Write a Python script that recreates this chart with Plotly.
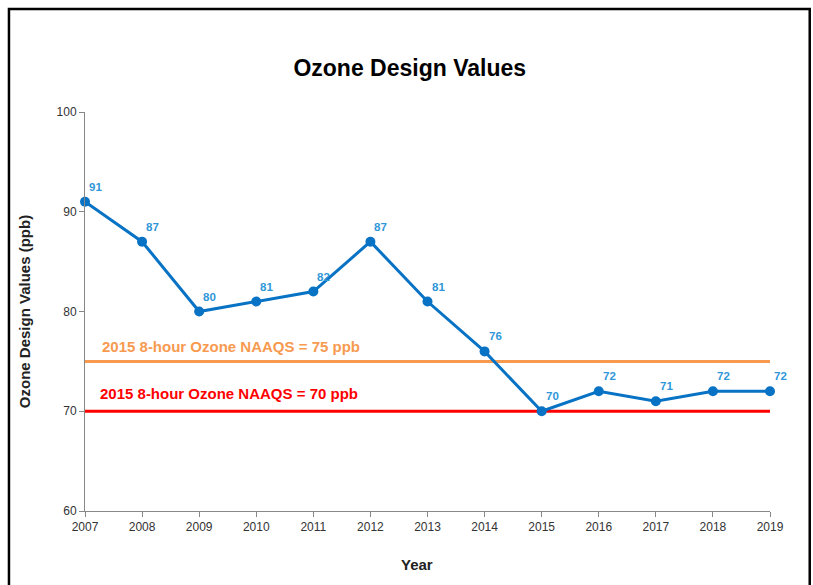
import plotly.graph_objects as pgo

# ozone design values (ppb) by year
years = [2007, 2008, 2009, 2010, 2011, 2012, 2013, 2014, 2015, 2016, 2017, 2018, 2019]
design_values = [91, 87, 80, 81, 82, 87, 81, 76, 70, 72, 71, 72, 72]

std_2008 = 75
std_2015 = 70
std_2008_label = "2015 8-hour Ozone NAAQS = 75 ppb"
std_2015_label = "2015 8-hour Ozone NAAQS = 70 ppb"

line_blue = "#0872C4"
label_blue = "#2F97D8"
orange = "#F79A50"
red = "#FF0000"

fig = pgo.Figure()

# standard lines
fig.add_trace(pgo.Scatter(x=[years[0], years[-1]], y=[std_2008, std_2008], mode="lines",
                          line=dict(color=orange, width=3), hoverinfo="skip", cliponaxis=False))
fig.add_trace(pgo.Scatter(x=[years[0], years[-1]], y=[std_2015, std_2015], mode="lines",
                          line=dict(color=red, width=3), hoverinfo="skip", cliponaxis=False))

# design value series
fig.add_trace(pgo.Scatter(x=years, y=design_values, mode="lines+markers",
                          line=dict(color=line_blue, width=3),
                          marker=dict(color=line_blue, size=10), cliponaxis=False))

# data labels
for yr, v in zip(years, design_values):
    fig.add_annotation(x=yr, y=v, text=f"<b>{v}</b>", showarrow=False,
                       xanchor="left", yanchor="bottom", xshift=2, yshift=7,
                       font=dict(size=11.5, color=label_blue, family="Liberation Sans"))

# standard labels
fig.add_annotation(x=years[0], y=std_2008, text=f"<b>{std_2008_label}</b>", showarrow=False,
                   xanchor="left", yanchor="bottom", xshift=15, yshift=4,
                   font=dict(size=15, color=orange, family="Liberation Sans"))
fig.add_annotation(x=years[0], y=std_2015, text=f"<b>{std_2015_label}</b>", showarrow=False,
                   xanchor="left", yanchor="bottom", xshift=13, yshift=7,
                   font=dict(size=15, color=red, family="Liberation Sans"))

# x axis title, sits a bit left of centre in the original
fig.add_annotation(x=0.485, xref="paper", y=-0.135, yref="paper", text="<b>Year</b>",
                   showarrow=False, xanchor="center", yanchor="middle",
                   font=dict(size=15, color="#222222"))

# outer frame
fig.add_shape(type="rect", xref="paper", yref="paper", x0=-0.111, x1=1.058, y0=-0.25, y1=1.258,
              line=dict(color="black", width=2.5), fillcolor="rgba(0,0,0,0)", layer="below")

fig.update_layout(
    width=813, height=585,
    margin=dict(l=85, r=43, t=112, b=74),
    paper_bgcolor="white", plot_bgcolor="white",
    showlegend=False,
    font=dict(family="Liberation Sans", color="#333333"),
    title=dict(text="<b>Ozone Design Values</b>", x=0.504, xref="container", xanchor="center",
               y=0.884, yanchor="middle", font=dict(size=23, color="black")),
    xaxis=dict(range=[years[0], years[-1]], tickmode="array", tickvals=years,
               showgrid=False, zeroline=False, showline=True, linecolor="#888888", linewidth=1,
               ticks="outside", ticklen=5, tickcolor="#888888",
               tickfont=dict(size=12, color="#333333")),
    yaxis=dict(range=[60, 100], tickvals=[60, 70, 80, 90, 100],
               showgrid=False, zeroline=False, showline=True, linecolor="#888888", linewidth=1,
               ticks="outside", ticklen=5, tickcolor="#888888",
               tickfont=dict(size=12, color="#333333"),
               title=dict(text="<b>Ozone Design Values (ppb)</b>", font=dict(size=15, color="#222222"),
                          standoff=22)),
)

fig.write_html("out.html", config={"displayModeBar": False},
               post_script="document.body.style.margin = '0';")
